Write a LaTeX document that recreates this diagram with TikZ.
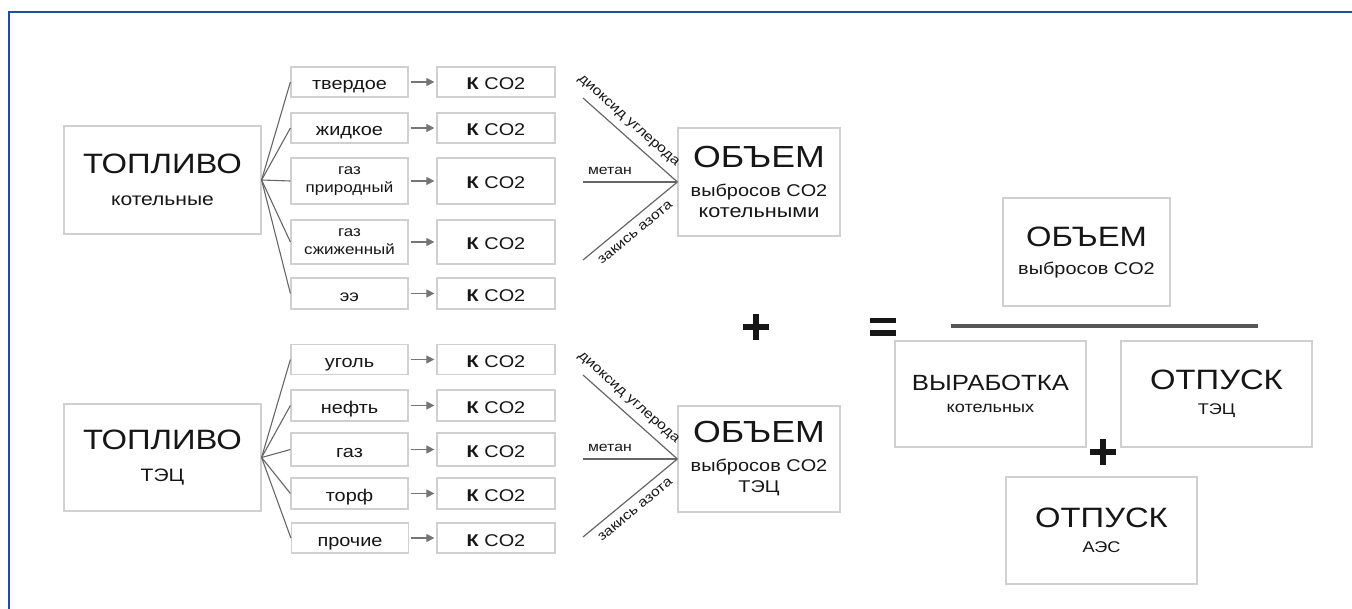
\documentclass[tikz,border=0pt]{standalone}
\usepackage{fontspec}
\setmainfont{Liberation Sans}[FakeStretch=1.17]
\usetikzlibrary{arrows.meta}
\definecolor{frameblue}{HTML}{1F4E9A}
\definecolor{boxline}{HTML}{D0D0D0}
\definecolor{wire}{HTML}{666666}
\definecolor{ink}{HTML}{161616}
\tikzset{
  panel/.style={draw=boxline, line width=1.2pt, fill=white, inner sep=0pt,
    text=ink},
  stack/.style={panel, align=center},
  fuelbox/.style={panel, minimum width=117pt, minimum height=30pt,
    font=\fontsize{17}{19}\selectfont, text height=16pt, text depth=0pt},
  twoline/.style={stack, minimum width=117pt,
    font=\fontsize{14.5}{18}\selectfont},
  kbox/.style={panel, minimum width=118pt, minimum height=30pt,
    font=\fontsize{17}{20}\selectfont, text height=16pt, text depth=0pt},
  sourcebox/.style={stack, minimum width=197pt, minimum height=108pt,
    font=\fontsize{18}{32}\selectfont},
  volbox/.style={stack, minimum width=162pt, minimum height=108pt,
    font=\fontsize{17}{21}\selectfont},
  termbox/.style={stack, minimum width=191pt, minimum height=106pt,
    font=\fontsize{15.5}{25}\selectfont},
  fan/.style={draw=wire, line width=1.1pt},
  feed/.style={draw=wire!90, line width=1.1pt, -{Triangle[length=8pt,width=8pt]},
    shorten <=2pt, shorten >=2pt},
  gasline/.style={draw=wire, line width=1.2pt},
  gaslabel/.style={font=\fontsize{13.5}{16}\selectfont, text=ink, inner sep=2pt},
  opsign/.style={draw=ink, line width=6pt},
}
\newcommand{\headA}[1]{{\fontsize{28}{32}\selectfont #1}}
\newcommand{\headB}[1]{{\fontsize{30.5}{30}\selectfont #1}}
\newcommand{\headC}[1]{{\fontsize{28}{25}\selectfont #1}}
\newcommand{\kco}{\textbf{К} CO2}
\begin{document}
\begin{tikzpicture}[x=1pt, y=-1pt]
\useasboundingbox (0,0) rectangle (1352,609);
% frame lines along the top and left edge
\draw[frameblue, line width=1.6pt] (1352,12) -- (9,12) -- (9,609);

% ---------- boiler houses ----------
\node[sourcebox, minimum height=108pt] (srcA) at (162.5,180) {\headA{ТОПЛИВО}\\котельные};

\node[fuelbox] (a1) at (349.5,82) {твердое};
\node[fuelbox] (a2) at (349.5,128) {жидкое};
\node[twoline, minimum height=46pt] (a3) at (349.5,181) {газ\\природный};
\node[twoline, minimum height=44pt] (a4) at (349.5,242) {газ\\сжиженный};
\node[fuelbox, minimum height=31pt, font=\fontsize{16}{18}\selectfont] (a5) at (349.5,293.5) {ээ};

\node[kbox] (ka1) at (496,82) {\kco};
\node[kbox] (ka2) at (496,128) {\kco};
\node[kbox, minimum height=46pt] (ka3) at (496,181) {\kco};
\node[kbox, minimum height=44pt] (ka4) at (496,242) {\kco};
\node[kbox, minimum height=31pt] (ka5) at (496,293.5) {\kco};

\foreach \i in {1,...,5} {
  \draw[fan] (srcA.east) -- (a\i.west);
  \draw[feed] (a\i.east) -- (ka\i.west);
}

\node[volbox] (volA) at (759,182) {\headB{ОБЪЕМ}\\[8pt]выбросов CO2\\{\fontsize{18.5}{21}\selectfont котельными}};
\coordinate (gA1) at (583,98);
\coordinate (gA2) at (583,182);
\coordinate (gA3) at (583,260);
\draw[gasline] (gA1) -- node[gaslabel, sloped, above=5pt, pos=0.39] {диоксид углерода} (volA.west);
\draw[gasline, line width=1.7pt] (gA2) -- node[gaslabel, above=5pt, pos=0.285] {метан} (volA.west);
\draw[gasline] (gA3) -- node[gaslabel, sloped, below=6pt, pos=0.47] {закись азота} (volA.west);

% ---------- combined heat and power plants ----------
\node[sourcebox, minimum height=107pt] (srcB) at (162.5,457.5) {\headA{ТОПЛИВО}\\ТЭЦ};

\node[fuelbox] (b1) at (349.5,359.5) {уголь};
\node[fuelbox, minimum height=31pt] (b2) at (349.5,405.5) {нефть};
\node[fuelbox, minimum height=33pt] (b3) at (349.5,449.5) {газ};
\node[fuelbox, minimum height=31pt] (b4) at (349.5,493.5) {торф};
\node[fuelbox] (b5) at (350,538) {прочие};

\node[kbox] (kb1) at (496,359.5) {\kco};
\node[kbox, minimum height=31pt] (kb2) at (496,405.5) {\kco};
\node[kbox, minimum height=33pt] (kb3) at (496,449.5) {\kco};
\node[kbox, minimum height=31pt] (kb4) at (496,493.5) {\kco};
\node[kbox] (kb5) at (496,538) {\kco};

\foreach \i in {1,...,5} {
  \draw[fan] (srcB.east) -- (b\i.west);
  \draw[feed] (b\i.east) -- (kb\i.west);
}

\node[volbox, minimum height=106pt] (volB) at (759,459) {\headB{ОБЪЕМ}\\[8pt]выбросов CO2\\ТЭЦ};
\coordinate (gB1) at (583,375);
\coordinate (gB2) at (583,459);
\coordinate (gB3) at (583,537);
\draw[gasline] (gB1) -- node[gaslabel, sloped, above=5pt, pos=0.39] {диоксид углерода} (volB.west);
\draw[gasline, line width=1.7pt] (gB2) -- node[gaslabel, above=5pt, pos=0.285] {метан} (volB.west);
\draw[gasline] (gB3) -- node[gaslabel, sloped, below=6pt, pos=0.47] {закись азота} (volB.west);

% ---------- plus and equals ----------
\draw[opsign] (743,327) -- (769,327);
\draw[opsign] (756,314) -- (756,340);
\draw[opsign, line width=5.5pt] (870,320.5) -- (896,320.5);
\draw[opsign, line width=5.5pt] (870,333) -- (896,333);

% ---------- specific emission ----------
\node[stack, minimum width=167pt, minimum height=108pt, font=\fontsize{17}{28}\selectfont]
  (total) at (1086.5,252) {\headC{ОБЪЕМ}\\выбросов CO2};
\draw[draw=wire!85!black, line width=4pt] (951,326) -- (1258,326);
\node[termbox, font=\fontsize{15.5}{22}\selectfont] (outA) at (990.5,394) {{\fontsize{22}{22}\selectfont ВЫРАБОТКА}\\котельных};
\node[termbox] (outB) at (1216.5,394) {\headC{ОТПУСК}\\ТЭЦ};
\node[termbox, minimum height=107pt] (outC) at (1101.5,530.5) {\headC{ОТПУСК}\\АЭС};
\draw[opsign] (1090,452) -- (1116,452);
\draw[opsign] (1103,439) -- (1103,465);
\end{tikzpicture}
\end{document}
